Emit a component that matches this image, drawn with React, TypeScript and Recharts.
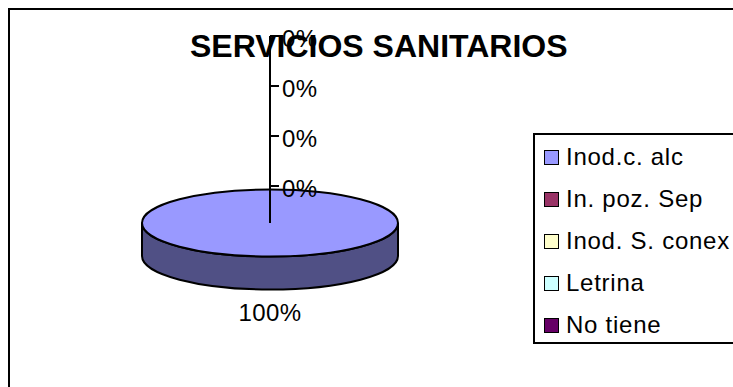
import React from "react";
import { PieChart, Pie, LineChart, Line, YAxis, Legend } from "recharts";

const categories = ["Inod.c. alc", "In. poz. Sep", "Inod. S. conex", "Letrina", "No tiene"];
const values = [100, 0, 0, 0, 0];
const colors = ["#9999FF", "#993366", "#FFFFCC", "#CCFFFF", "#660066"];
const axisTicks = [0, 1, 2, 3];

const FONT = "'Liberation Sans', Arial, sans-serif";
const TILT = 0.262;
const DEPTH = 33;

const pieData = categories.map((name, i) => ({ name, value: values[i], fill: colors[i] }));
const axisData = axisTicks.map((v) => ({ v }));

function shade(hex: string) {
  const n = parseInt(hex.slice(1), 16);
  const c = (s: number) => Math.round(((n >> s) & 255) * 0.52);
  return `rgb(${c(16)},${c(8)},${c(0)})`;
}

// flattens the sector the library computed into a tilted disc with a side wall
function TiltedSector(props: any) {
  const { cx, cy, outerRadius: r, startAngle, endAngle, fill } = props;
  if (Math.abs(endAngle - startAngle) < 0.01) return null;
  const ry = r * TILT;
  const wall = `M${cx - r},${cy} A${r},${ry} 0 0 0 ${cx + r},${cy} L${cx + r},${cy + DEPTH} A${r},${ry} 0 0 1 ${cx - r},${cy + DEPTH} Z`;
  return (
    <g>
      <path d={wall} fill={shade(fill)} stroke="#000" strokeWidth={2} />
      <ellipse cx={cx} cy={cy} rx={r} ry={ry} fill={fill} stroke="#000" strokeWidth={2} />
    </g>
  );
}

function renderLabel(props: any) {
  if (!props.value) return null;
  return (
    <text x={props.cx} y={props.cy + 98} textAnchor="middle" fontSize={24} letterSpacing={0.4} fontFamily={FONT} fill="#000">
      {props.value}%
    </text>
  );
}

function LegendBox({ payload }: any) {
  return (
    <div
      style={{
        boxSizing: "border-box",
        width: 202,
        height: 211,
        border: "2px solid #000",
        borderRight: "none",
        background: "#fff",
        paddingLeft: 9,
        paddingTop: 1,
        fontFamily: FONT,
        fontSize: 24,
        letterSpacing: 0.75,
        color: "#000",
      }}
    >
      {(payload || []).map((entry: any) => (
        <div key={entry.value} style={{ height: 42, display: "flex", alignItems: "center", whiteSpace: "nowrap" }}>
          <span
            style={{
              boxSizing: "border-box",
              width: 15,
              height: 15,
              marginRight: 7,
              border: "1.5px solid #000",
              background: entry.color,
              flexShrink: 0,
            }}
          />
          {entry.value}
        </div>
      ))}
    </div>
  );
}

export default function App() {
  return (
    <div style={{ position: "absolute", left: 0, top: 0, width: 733, height: 387, background: "#fff", overflow: "hidden" }}>
      <div style={{ position: "absolute", left: 8, top: 8, width: 760, height: 420, border: "2px solid #000" }} />
      <div style={{ position: "absolute", left: 0, top: 0 }}>
        <PieChart width={733} height={387} margin={{ top: 0, right: 0, bottom: 0, left: 0 }}>
          <Pie
            data={pieData}
            dataKey="value"
            nameKey="name"
            cx={270}
            cy={223}
            outerRadius={128}
            startAngle={90}
            endAngle={-270}
            shape={TiltedSector}
            label={renderLabel}
            labelLine={false}
            isAnimationActive={false}
          />
          <Legend
            content={<LegendBox />}
            layout="vertical"
            itemSorter={null}
            wrapperStyle={{ position: "absolute", left: 533, top: 133, width: 202, height: 211 }}
          />
        </PieChart>
      </div>
      <div
        style={{
          position: "absolute",
          left: 190,
          top: 28,
          whiteSpace: "nowrap",
          fontFamily: FONT,
          fontWeight: 700,
          fontSize: 32,
          color: "#000",
        }}
      >
        SERVICIOS SANITARIOS
      </div>
      <div style={{ position: "absolute", left: 0, top: 0 }}>
        <LineChart width={733} height={387} data={axisData} margin={{ top: 36, right: 0, bottom: 164, left: 270 }}>
          <YAxis
            orientation="left"
            mirror
            domain={[-0.74, 3]}
            ticks={axisTicks}
            interval={0}
            tickFormatter={() => "0%"}
            tick={{ fontSize: 24, fontFamily: FONT, fill: "#000", dy: 2, letterSpacing: 0.4 }}
            tickSize={9}
            tickMargin={3}
            stroke="#000"
            strokeWidth={2}
          />
          <Line dataKey="v" stroke="none" dot={false} isAnimationActive={false} />
        </LineChart>
      </div>
    </div>
  );
}
